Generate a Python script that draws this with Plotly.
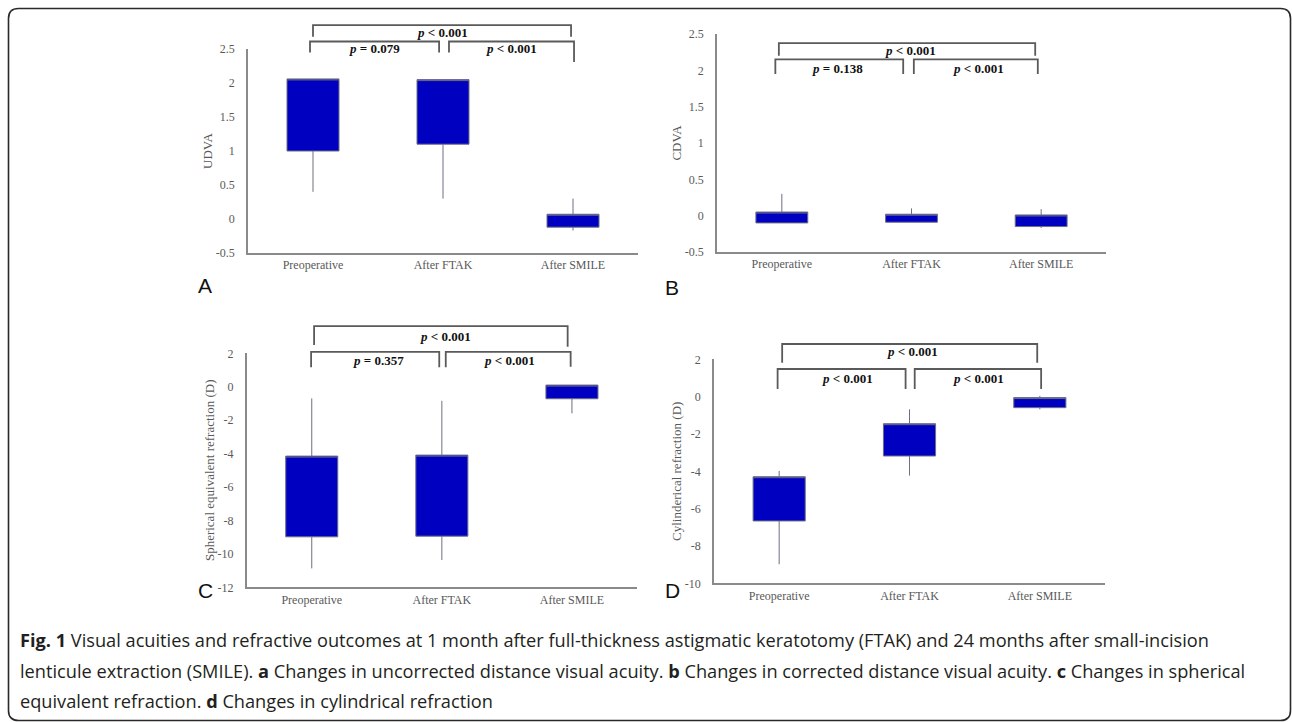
import plotly.graph_objects as go

# ---------------- data ----------------
categories = ["Preoperative", "After FTAK", "After SMILE"]

# Panel A: UDVA
udva_q1 = [1.00, 1.10, -0.12]
udva_q3 = [2.06, 2.05, 0.07]
udva_min = [0.40, 0.30, -0.17]
udva_max = [2.06, 2.05, 0.30]

# Panel B: CDVA
cdva_q1 = [-0.10, -0.09, -0.15]
cdva_q3 = [0.05, 0.02, 0.01]
cdva_min = [-0.10, -0.09, -0.17]
cdva_max = [0.30, 0.10, 0.09]

# Panel C: spherical equivalent refraction
se_q1 = [-8.98, -8.94, -0.72]
se_q3 = [-4.15, -4.09, 0.10]
se_min = [-10.87, -10.37, -1.59]
se_max = [-0.70, -0.84, 0.10]

# Panel D: cylindrical refraction
cyl_q1 = [-6.66, -3.18, -0.59]
cyl_q3 = [-4.29, -1.45, -0.05]
cyl_min = [-8.98, -4.23, -0.68]
cyl_max = [-3.98, -0.68, 0.04]

va_ticks = [-0.5, 0, 0.5, 1, 1.5, 2, 2.5]
va_ticktext = ["-0.5", "0", "0.5", "1", "1.5", "2", "2.5"]
se_ticks = [-12, -10, -8, -6, -4, -2, 0, 2]
se_ticktext = ["-12", "-10", "-8", "-6", "-4", "-2", "0", "2"]
cyl_ticks = [-10, -8, -6, -4, -2, 0, 2]
cyl_ticktext = ["-10", "-8", "-6", "-4", "-2", "0", "2"]

# p-value labels (top, lower-left, lower-right)
pvals_a = ["p < 0.001", "p = 0.079", "p < 0.001"]
pvals_b = ["p < 0.001", "p = 0.138", "p < 0.001"]
pvals_c = ["p < 0.001", "p = 0.357", "p < 0.001"]
pvals_d = ["p < 0.001", "p < 0.001", "p < 0.001"]

# ---------------- layout helpers ----------------
W, H = 1292, 722


def pxx(v):
    return v / W


def pxy(v):
    return 1 - v / H


# panel geometry in pixels: (x0, x1, ytop, ybottom)
panels = [
    dict(name="A", box=(248, 638, 49, 253), yr=(-0.5, 2.5), q1=udva_q1, q3=udva_q3, lo=udva_min, hi=udva_max,
         tv=va_ticks, tt=va_ticktext, title="UDVA", standoff=0, pv=pvals_a,
         # brackets: (xl, xr, yline, yleg_l, yleg_r), text (x, y)
         br=[(0.0, 1.985, 2.85, 2.68, 2.68), (-0.023, 0.97, 2.61, 2.45, 2.45), (1.046, 2.008, 2.61, 2.45, 2.31)],
         tx=[(1.0, 2.74), (0.47, 2.51), (1.53, 2.51)], letter=(205, 285)),
    dict(name="B", box=(717, 1106, 34, 252), yr=(-0.5, 2.5), q1=cdva_q1, q3=cdva_q3, lo=cdva_min, hi=cdva_max,
         tv=va_ticks, tt=va_ticktext, title="CDVA", standoff=0, pv=pvals_b,
         br=[(-0.023, 1.954, 2.375, 2.20, 2.20), (-0.05, 0.936, 2.15, 1.95, 1.95), (1.018, 1.974, 2.15, 1.95, 1.95)],
         tx=[(0.99, 2.27), (0.43, 2.03), (1.52, 2.03)], letter=(672, 287)),
    dict(name="C", box=(246.7, 637, 353.3, 587.3), yr=(-12, 2), q1=se_q1, q3=se_q3, lo=se_min, hi=se_max,
         tv=se_ticks, tt=se_ticktext, title="Spherical equivalent refraction (D)", standoff=0, pv=pvals_c,
         br=[(0.018, 1.967, 3.63, 2.50, 2.39), (-0.005, 0.98, 2.09, 1.16, 1.16), (1.03, 1.99, 2.09, 1.16, 1.2)],
         tx=[(1.03, 3.03), (0.51, 1.54), (1.52, 1.54)], letter=(205, 590)),
    dict(name="D", box=(714, 1105, 359.3, 583.3), yr=(-10, 2), q1=cyl_q1, q3=cyl_q3, lo=cyl_min, hi=cyl_max,
         tv=cyl_ticks, tt=cyl_ticktext, title="Cylinderical refraction (D)", standoff=0, pv=pvals_d,
         br=[(0.023, 1.98, 2.82, 1.82, 1.82), (-0.012, 0.97, 1.48, 0.41, 0.41), (1.04, 2.01, 1.48, 0.41, 0.41)],
         tx=[(1.02, 2.41), (0.527, 0.98), (1.53, 0.98)], letter=(672, 590)),
]

serif = "Liberation Serif"
axis_gray = "#595959"
line_gray = "#8a8a8a"

fig = go.Figure()
shapes = []
annotations = []

for i, p in enumerate(panels):
    n = "" if i == 0 else str(i + 1)
    x0, x1, yt, yb = p["box"]
    xd = [pxx(x0), pxx(x1)]
    yd = [pxy(yb), pxy(yt)]
    fig.add_trace(go.Box(
        x=categories, q1=p["q1"], median=p["q3"], q3=p["q3"],
        lowerfence=p["lo"], upperfence=p["hi"],
        fillcolor="#0000C0", line=dict(color="#6e6e85", width=1),
        width=0.4, whiskerwidth=0, boxpoints=False, showlegend=False,
        hoverinfo="skip", xaxis="x" + n, yaxis="y" + n,
    ))
    fig.layout["xaxis" + n] = dict(
        domain=xd, anchor="y" + n, range=[-0.5, 2.5], type="category", automargin=False,
        showline=True, linecolor=line_gray, linewidth=1.6, showgrid=False, zeroline=False,
        ticks="", tickfont=dict(family=serif, size=12, color=axis_gray), fixedrange=True,
    )
    fig.layout["yaxis" + n] = dict(
        domain=yd, anchor="x" + n, range=list(p["yr"]), tickvals=p["tv"], ticktext=p["tt"],
        automargin=False,
        showline=True, linecolor=line_gray, linewidth=1.6, showgrid=False, zeroline=False,
        ticks="", ticklabelstandoff=9, tickfont=dict(family=serif, size=12, color=axis_gray),
        title=dict(text=p["title"], font=dict(family=serif, size=13, color=axis_gray), standoff=p["standoff"]),
        fixedrange=True,
    )

    ymin, ymax = p["yr"]

    def fx(c, xd=xd):
        return xd[0] + (c + 0.5) / 3 * (xd[1] - xd[0])

    def fy(v, yd=yd, ymin=ymin, ymax=ymax):
        return yd[0] + (v - ymin) / (ymax - ymin) * (yd[1] - yd[0])

    for (xl, xr, yl, ll, lr) in p["br"]:
        path = "M {:.5f},{:.5f} L {:.5f},{:.5f} L {:.5f},{:.5f} L {:.5f},{:.5f}".format(
            fx(xl), fy(ll), fx(xl), fy(yl), fx(xr), fy(yl), fx(xr), fy(lr))
        shapes.append(dict(type="path", xref="paper", yref="paper", path=path,
                           line=dict(color="#5a5a5a", width=1.8)))
    for (tx, ty), label in zip(p["tx"], p["pv"]):
        txt = "<b><i>p</i></b>" + "<b>" + label[1:] + "</b>"
        annotations.append(dict(x=fx(tx), y=fy(ty), xref="paper", yref="paper", text=txt,
                                showarrow=False, xanchor="center", yanchor="middle",
                                font=dict(family=serif, size=13, color="#111111")))
    lx, ly = p["letter"]
    annotations.append(dict(x=pxx(lx), y=pxy(ly), xref="paper", yref="paper", text=p["name"],
                            showarrow=False, xanchor="center", yanchor="middle",
                            font=dict(family="Liberation Sans", size=21, color="#111111")))

# caption
caption_lines = [
    "<b>Fig. 1</b> Visual acuities and refractive outcomes at 1 month after full-thickness astigmatic keratotomy (FTAK) and 24 months after small-incision",
    "lenticule extraction (SMILE). <b>a</b> Changes in uncorrected distance visual acuity. <b>b</b> Changes in corrected distance visual acuity. <b>c</b> Changes in spherical",
    "equivalent refraction. <b>d</b> Changes in cylindrical refraction",
]
caption_y = [640, 671, 701]
for line, yy in zip(caption_lines, caption_y):
    annotations.append(dict(x=pxx(18), y=pxy(yy), xref="paper", yref="paper", text=line,
                            showarrow=False, xanchor="left", yanchor="middle",
                            font=dict(family="Open Sans", size=18.2, color="#231f20")))

# rounded frame
r = 10
fx0, fy0, fx1, fy1 = 8.5, 8.5, 1290.5, 720.5
pts = [
    ("M", fx0 + r, fy0), ("L", fx1 - r, fy0), ("Q", fx1, fy0, fx1, fy0 + r),
    ("L", fx1, fy1 - r), ("Q", fx1, fy1, fx1 - r, fy1), ("L", fx0 + r, fy1),
    ("Q", fx0, fy1, fx0, fy1 - r), ("L", fx0, fy0 + r), ("Q", fx0, fy0, fx0 + r, fy0),
]
segs = []
for p_ in pts:
    if p_[0] == "Q":
        segs.append("Q {:.5f},{:.5f} {:.5f},{:.5f}".format(pxx(p_[1]), pxy(p_[2]), pxx(p_[3]), pxy(p_[4])))
    else:
        segs.append("{} {:.5f},{:.5f}".format(p_[0], pxx(p_[1]), pxy(p_[2])))
shapes.append(dict(type="path", xref="paper", yref="paper", path=" ".join(segs) + " Z",
                   line=dict(color="#2a2a2a", width=1.6)))

fig.update_layout(
    width=W, height=H, margin=dict(l=0, r=0, t=0, b=0, pad=0, autoexpand=False),
    paper_bgcolor="white", plot_bgcolor="white",
    shapes=shapes, annotations=annotations, showlegend=False,
)

fig.write_html(
    "out.html", config={"displayModeBar": False},
    post_script=(
        "document.documentElement.style.margin='0';"
        "document.documentElement.style.padding='0';"
        "document.documentElement.style.overflow='hidden';"
        "document.body.style.margin='0';"
        "document.body.style.padding='0';"
        "document.body.style.overflow='hidden';"
    ),
)
